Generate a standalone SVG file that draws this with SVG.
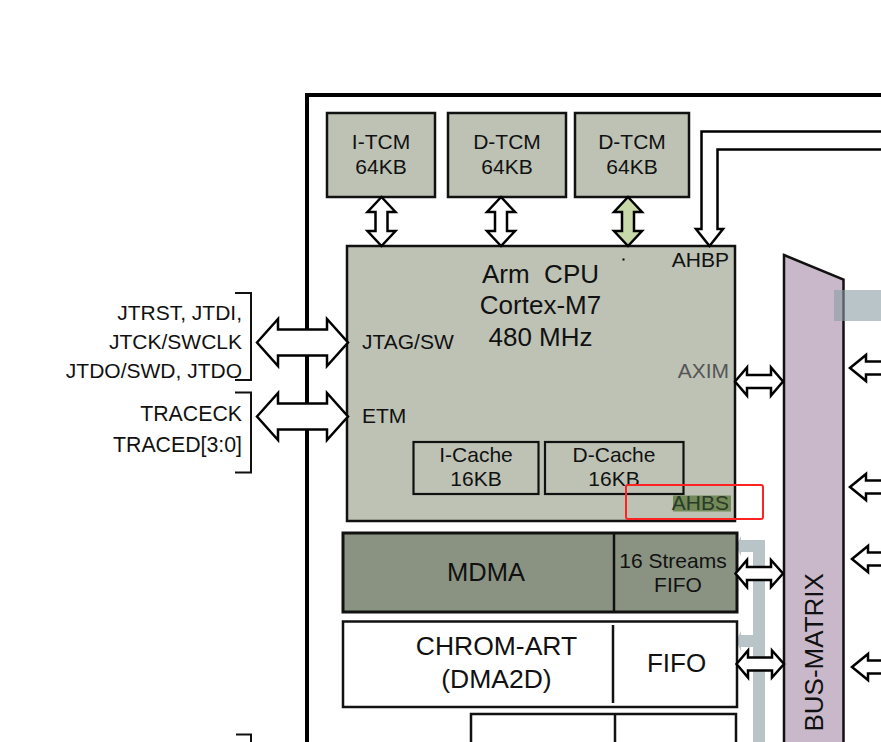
<svg xmlns="http://www.w3.org/2000/svg" width="881" height="742" viewBox="0 0 881 742">
<style>
text{font-family:"Liberation Sans",Arial,sans-serif;fill:#111;font-size:21px}
.c{text-anchor:middle}
.r{text-anchor:end}
.box{fill:#bdc2b5;stroke:#111;stroke-width:2.5}
.sub{fill:none;stroke:#111;stroke-width:2.2}
.arr{fill:#fff;stroke:#000;stroke-width:2.5;stroke-linejoin:miter}
.gray{fill:#b9c4c9}
</style>
<rect width="881" height="742" fill="#fff"/>
<path d="M307,742 V95 H885" fill="none" stroke="#000" stroke-width="4"/>

<g id="bus-matrix">
<polygon points="784,255 843.5,279.5 843.5,750 784,750" fill="#c9b8c9" stroke="#111" stroke-width="2.5"/>
<text transform="translate(822.5,731.5) rotate(-90)" style="font-size:26px">BUS-MATRIX</text>
</g>
<rect x="834" y="290" width="50" height="31" fill="#8a9da5" opacity="0.6"/>

<g id="gray-lines">
<polygon class="gray" points="753,742 753,552 741,552 741,556 736,546 741,536 741,540 765,540 765,742"/>
<polygon class="gray" points="753,635 741,635 741,631 736,641 741,651 741,647 753,647"/>
</g>

<g id="itcm"><rect class="box" x="327" y="113" width="108" height="84"/><text class="c" x="381" y="149">I-TCM</text><text class="c" x="381" y="174">64KB</text></g>
<g id="dtcm1"><rect class="box" x="448" y="113" width="118" height="84"/><text class="c" x="507" y="149">D-TCM</text><text class="c" x="507" y="174">64KB</text></g>
<g id="dtcm2"><rect class="box" x="575" y="113" width="114" height="84"/><text class="c" x="632" y="149">D-TCM</text><text class="c" x="632" y="174">64KB</text></g>

<g id="cpu">
<rect class="box" x="347" y="246" width="388" height="275"/>
<text class="c" x="540.5" y="282.5" style="font-size:26px;white-space:pre">Arm  CPU</text>
<text class="c" x="540.5" y="314" style="font-size:26px">Cortex-M7</text>
<text class="c" x="540.5" y="346" style="font-size:26px">480 MHz</text>
<text class="r" x="729" y="267">AHBP</text>
<text x="362" y="349">JTAG/SW</text>
<text x="362" y="423">ETM</text>
<text class="r" x="729" y="377.5" style="fill:#555">AXIM</text>
<rect x="673" y="495.5" width="58" height="16" fill="#728a58"/>
<text class="r" x="729" y="510" style="fill:#2c3a28">AHBS</text>
<rect x="622.5" y="258.5" width="2" height="2" fill="#000"/>
</g>
<g id="icache"><rect class="sub" x="413.5" y="442" width="125" height="52"/><text class="c" x="476" y="461.5">I-Cache</text><text class="c" x="476" y="486">16KB</text></g>
<g id="dcache"><rect class="sub" x="545" y="442" width="138.5" height="52"/><text class="c" x="614" y="461.5">D-Cache</text><text class="c" x="614" y="486">16KB</text></g>

<g id="mdma">
<rect x="343" y="533" width="394" height="79" fill="#8a9382" stroke="#111" stroke-width="3"/>
<line x1="614" y1="533" x2="614" y2="612" stroke="#111" stroke-width="2.5"/>
<text class="c" x="486" y="581" style="font-size:25.5px">MDMA</text>
<text class="c" x="673" y="567.5">16 Streams</text>
<text class="c" x="678" y="592">FIFO</text>
</g>

<g id="chromart">
<rect x="343" y="621.5" width="394" height="85.5" fill="#fff" stroke="#111" stroke-width="2.5"/>
<line x1="613" y1="625" x2="613" y2="703" stroke="#111" stroke-width="2.5"/>
<text class="c" x="496.5" y="654.5" style="font-size:26.5px">CHROM-ART</text>
<text class="c" x="496.5" y="687.5" style="font-size:26.5px">(DMA2D)</text>
<text class="c" x="676.5" y="671.5" style="font-size:26px">FIFO</text>
</g>

<g id="bottom-box">
<path d="M471,745 V714 H736 V745 M615,714 V745" fill="#fff" stroke="#111" stroke-width="2.5"/>
</g>

<g id="left-labels">
<path d="M235,293 H251 V380 H235 M235,392.5 H251 V472.5 H235 M236,734.5 H251 V745" fill="none" stroke="#111" stroke-width="2"/>
<text class="r" x="242" y="320">JTRST, JTDI,</text>
<text class="r" x="242" y="349">JTCK/SWCLK</text>
<text class="r" x="242" y="377.5">JTDO/SWD, JTDO</text>
<text class="r" x="242" y="421" style="font-size:21.3px">TRACECK</text>
<text class="r" x="242" y="452" style="font-size:21.3px">TRACED[3:0]</text>
</g>

<g id="connectors">
<polygon class="arr" points="381.5,197 395.5,212 387.5,212 387.5,231 395.5,231 381.5,246 367.5,231 375.5,231 375.5,212 367.5,212"/>
<polygon class="arr" points="501,197 515,212 507,212 507,231 515,231 501,246 487,231 495,231 495,212 487,212"/>
<polygon class="arr" style="fill:#c8d8a8" points="628,197 642,212 634,212 634,231 642,231 628,246 614,231 622,231 622,212 614,212"/>
<polygon class="arr" points="885,131.5 701.5,131.5 701.5,229 696,229 709.5,246 723,229 717.5,229 717.5,149.5 885,149.5"/>
<polygon class="arr" points="257,342.5 278,319 278,329.5 327,329.5 327,319 348,342.5 327,366 327,355.5 278,355.5 278,366"/>
<polygon class="arr" points="257,416.5 278,393 278,403.5 327,403.5 327,393 348,416.5 327,440 327,429.5 278,429.5 278,440"/>
<polygon class="arr" points="735,381.5 747,367.5 747,375 771,375 771,367.5 783,381.5 771,395.5 771,388 747,388 747,395.5"/>
<polygon class="arr" points="735.5,573.5 747,560 747,567 771,567 771,560 783,573.5 771,587 771,580 747,580 747,587"/>
<polygon class="arr" points="736.5,664 748,650.5 748,657.5 772,657.5 772,650.5 784,664 772,677.5 772,670.5 748,670.5 748,677.5"/>
<polygon class="arr" points="850,368 866,355 866,361.5 885,361.5 885,374.5 866,374.5 866,381"/>
<polygon class="arr" points="850,487 866,474 866,480.5 885,480.5 885,493.5 866,493.5 866,500"/>
<polygon class="arr" points="852,559 868,546 868,552.5 885,552.5 885,565.5 868,565.5 868,572"/>
<polygon class="arr" points="852,667 868,654 868,660.5 885,660.5 885,673.5 868,673.5 868,680"/>
</g>

<rect x="626" y="485" width="137" height="34" rx="2" fill="none" stroke="#f22" stroke-width="2"/>
</svg>
